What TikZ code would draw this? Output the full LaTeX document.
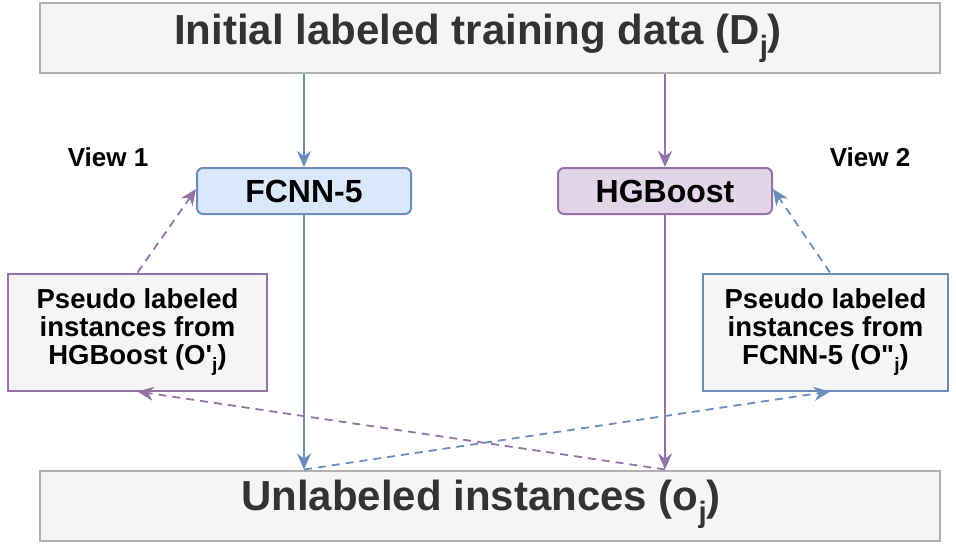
\documentclass[tikz,border=0pt]{standalone}
\usepackage{fontspec}
\setmainfont{Liberation Sans}
\usetikzlibrary{arrows.meta}

\definecolor{bluefill}{HTML}{DAE8FC}
\definecolor{bluedraw}{HTML}{6C8EBF}
\definecolor{purplefill}{HTML}{E1D5E7}
\definecolor{purpledraw}{HTML}{9673A6}
\definecolor{grayfill}{HTML}{F5F5F5}
\definecolor{graydraw}{HTML}{B0B0B0}
\definecolor{darktext}{HTML}{333333}

% subscript j at 70% of the current size
\makeatletter
\newcommand{\subj}{\raisebox{-0.28em}{\fontsize{0.7\dimexpr\f@size pt\relax}{1em}\selectfont j}}
\makeatother

\begin{document}
\begin{tikzpicture}[x=1pt,y=-1pt,
  databox/.style={draw=graydraw, fill=grayfill, line width=2pt,
    minimum width=900pt, minimum height=70pt, inner sep=0pt},
  datatext/.style={text=darktext, inner sep=0pt,
    font=\fontsize{42}{48}\selectfont\bfseries},
  modelbox/.style={rounded corners=6pt, line width=2pt,
    minimum width=214pt, minimum height=46pt, inner sep=0pt,
    font=\fontsize{32}{36}\selectfont\bfseries},
  pseudobox/.style={fill=grayfill, line width=2pt, minimum height=117pt,
    inner sep=0pt, align=center,
    font=\fontsize{27.5}{28}\selectfont\bfseries},
  viewtext/.style={font=\fontsize{26}{30}\selectfont\bfseries},
  flow/.style={line width=1.8pt,
    -{Stealth[length=16pt,width=14pt,inset=5pt]}},
  back/.style={flow, dash pattern=on 8pt off 6pt}
]
\useasboundingbox (0,0) rectangle (956,544);

% data sets
\node[databox] (top) at (490,38) {};
\node[datatext] (toptext) at (478,38) {Initial labeled training data (D\subj)};
\node[databox] (bot) at (490,505.5) {};
\node[datatext] (bottext) at (481,504) {Unlabeled instances (o\subj)};

% the two classifiers
\node[modelbox, draw=bluedraw, fill=bluefill] (fc) at (304,191) {FCNN-5};
\node[modelbox, draw=purpledraw, fill=purplefill] (hg) at (665,191) {HGBoost};

% pseudo labeled sets
\node[pseudobox, draw=purpledraw, minimum width=259pt] (pl) at (137.5,332)
  {Pseudo labeled\\instances from\\HGBoost (O\textquotesingle\subj)};
\node[pseudobox, draw=bluedraw, minimum width=245pt] (pr) at (825.5,332)
  {Pseudo labeled\\instances from\\FCNN-5 (O\textquotedbl\subj)};

% view labels
\node[viewtext] (v1) at (108,157) {View 1};
\node[viewtext] (v2) at (870,157) {View 2};

% training flow
\draw[flow, bluedraw] (fc.north |- top.south) -- (fc.north);
\draw[flow, purpledraw] (hg.north |- top.south) -- (hg.north);
\draw[flow, bluedraw] (fc.south) -- (fc.south |- bot.north);
\draw[flow, purpledraw] (hg.south) -- (hg.south |- bot.north);

% labelling of unlabeled instances
\draw[back, purpledraw] (hg.south |- bot.north) -- (pl.south);
\draw[back, bluedraw] (fc.south |- bot.north) -- ([xshift=4.5pt]pr.south);

% feeding pseudo labels back
\draw[back, purpledraw] (pl.north) -- ([yshift=2pt]fc.west);
\draw[back, bluedraw] ([xshift=4.5pt]pr.north) -- ([yshift=2pt]hg.east);
\end{tikzpicture}
\end{document}
